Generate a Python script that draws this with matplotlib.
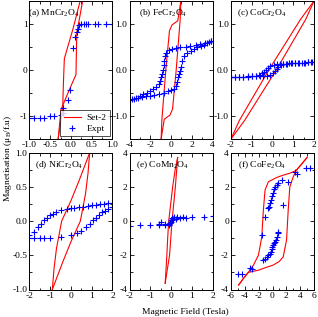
import matplotlib
matplotlib.use('Agg')
import matplotlib.pyplot as plt
from matplotlib.ticker import MultipleLocator, FormatStrFormatter

plt.rcParams['font.family'] = ['Liberation Serif', 'DejaVu Serif']
plt.rcParams['mathtext.fontset'] = 'custom'
plt.rcParams['mathtext.rm'] = 'Liberation Serif'
plt.rcParams['mathtext.it'] = 'Liberation Serif:italic'
plt.rcParams['axes.unicode_minus'] = False

# (a) MnCr2O4
a_sim_up_h = [-0.31, -0.24, -0.05, 0.12, 0.13, 0.14, 0.2, 0.28]
a_sim_up_m = [-1.5, -0.86, -0.45, -0.1, 0.4, 0.82, 1.1, 1.5]
a_sim_dn_h = [0.22, 0.05, -0.16, -0.18, -0.19, -0.2, -0.26, -0.31]
a_sim_dn_m = [1.5, 0.9, 0.25, -0.21, -0.5, -0.86, -1.2, -1.5]
a_exp_h = [-1.0, -0.9, -0.75, -0.66, -0.5, -0.41, -0.23, -0.2, -0.2, -0.08, -0.02,
           0.04, 0.1, 0.15, 0.18, 0.2, 0.24, 0.32, 0.37, 0.42, 0.59, 0.65, 0.85, 0.98]
a_exp_m = [-1.05, -1.05, -1.04, -1.04, -1.0, -1.0, -0.97, -0.93, -0.82, -0.65, -0.43,
           0.47, 0.72, 0.82, 0.9, 0.97, 1.0, 1.0, 1.0, 1.0, 1.0, 1.0, 1.0, 1.0]

# (b) FeCr2O4
b_sim_up_h = [-0.95, -0.65, -0.1, 0.15, 0.5, 0.88, 0.95]
b_sim_up_m = [-1.5, -1.07, -0.98, -0.85, 0.0, 1.08, 1.5]
b_sim_dn_h = [0.95, 0.65, 0.1, -0.15, -0.5, -0.88, -0.95]
b_sim_dn_m = [1.5, 1.07, 0.98, 0.85, 0.0, -1.08, -1.5]
b_exp_dn_h = [3.9, 3.65, 3.3, 2.84, 2.4, 1.87, 1.4, 0.9, 0.5, 0.1, -0.2, -0.46, -0.58,
              -0.65, -0.72, -0.8, -0.87, -0.95, -1.05, -1.2, -1.45, -1.69, -2.0, -2.33,
              -2.7, -2.98, -3.4, -3.8]
b_exp_dn_m = [0.63, 0.6, 0.59, 0.57, 0.55, 0.53, 0.51, 0.49, 0.47, 0.46, 0.43, 0.38, 0.3,
              0.2, 0.1, 0.0, -0.09, -0.16, -0.23, -0.31, -0.38, -0.42, -0.46, -0.49,
              -0.53, -0.56, -0.6, -0.63]
b_exp_up_h = [-4.0, -3.6, -3.2, -2.8, -2.4, -2.0, -1.6, -1.2, -0.72, -0.3, 0.0, 0.25,
              0.45, 0.58, 0.68, 0.76, 0.84, 0.92, 1.07, 1.3, 1.55, 1.9, 2.2, 2.5, 2.9,
              3.2, 3.5, 3.82]
b_exp_up_m = [-0.65, -0.63, -0.61, -0.59, -0.57, -0.56, -0.54, -0.52, -0.49, -0.46,
              -0.44, -0.41, -0.34, -0.27, -0.15, -0.08, -0.02, 0.06, 0.2, 0.3, 0.36,
              0.42, 0.46, 0.49, 0.52, 0.55, 0.58, 0.62]

# (c) CoCr2O4
c_sim_up_h = [-2.0, -1.35, 0.18, 1.6, 2.0]
c_sim_up_m = [-1.5, -1.1, 0.0, 1.1, 1.5]
c_sim_dn_h = [2.0, 1.35, -0.18, -1.6, -2.0]
c_sim_dn_m = [1.5, 1.1, 0.0, -1.1, -1.5]
c_exp_dn_h = [2.0, 1.85, 1.7, 1.55, 1.4, 1.25, 1.1, 0.95, 0.8, 0.65, 0.5, 0.35, 0.2,
              0.05, -0.1, -0.2, -0.3, -0.4, -0.5, -0.65, -0.8, -1.0, -1.2, -1.4, -1.6,
              -1.8, -2.0]
c_exp_dn_m = [0.17, 0.17, 0.17, 0.16, 0.16, 0.16, 0.15, 0.15, 0.15, 0.14, 0.14, 0.13,
              0.13, 0.11, 0.08, 0.05, 0.0, -0.04, -0.07, -0.1, -0.12, -0.13, -0.14,
              -0.15, -0.15, -0.16, -0.16]
c_exp_up_h = [-2.0, -1.8, -1.6, -1.4, -1.2, -1.0, -0.8, -0.6, -0.45, -0.28, -0.1, 0.0,
              0.12, 0.2, 0.28, 0.4, 0.52, 0.7, 0.9, 1.1, 1.3, 1.5, 1.7, 1.9]
c_exp_up_m = [-0.16, -0.16, -0.16, -0.15, -0.15, -0.14, -0.14, -0.13, -0.13, -0.12,
              -0.1, -0.07, -0.02, 0.02, 0.07, 0.11, 0.13, 0.14, 0.15, 0.15, 0.16, 0.16,
              0.17, 0.17]

# (d) NiCr2O4
d_sim_up_h = [-0.9, -0.4, 0.0, 0.45, 0.7, 0.82, 0.9]
d_sim_up_m = [-1.0, -0.6, -0.3, 0.0, 0.4, 0.7, 1.0]
d_sim_dn_h = [0.9, 0.4, 0.0, -0.45, -0.7, -0.82, -0.9]
d_sim_dn_m = [1.0, 0.6, 0.3, 0.0, -0.4, -0.7, -1.0]
d_exp_dn_h = [2.0, 1.8, 1.6, 1.4, 1.2, 1.0, 0.8, 0.6, 0.4, 0.16, 0.0, -0.2, -0.5, -0.7,
              -0.85, -1.0, -1.15, -1.3, -1.45, -1.6, -1.8, -2.0]
d_exp_dn_m = [0.26, 0.26, 0.25, 0.25, 0.24, 0.23, 0.22, 0.21, 0.2, 0.19, 0.19, 0.18,
              0.16, 0.13, 0.11, 0.09, 0.05, 0.01, -0.04, -0.09, -0.16, -0.21]
d_exp_up_h = [-2.0, -1.8, -1.5, -1.3, -1.0, -0.5, 0.0, 0.3, 0.5, 0.7, 0.9, 1.05, 1.2,
              1.35, 1.5, 1.65, 1.8, 2.0]
d_exp_up_m = [-0.25, -0.25, -0.25, -0.25, -0.24, -0.23, -0.2, -0.17, -0.14, -0.09,
              -0.04, 0.01, 0.05, 0.09, 0.13, 0.15, 0.18, 0.2]

# (e) CoMn2O4
e_sim_up_h = [-0.28, -0.2, -0.07, 0.05, 0.13, 0.21, 0.32]
e_sim_up_m = [-3.64, -3.0, -2.0, 0.0, 1.0, 2.0, 3.72]
e_sim_dn_h = [0.32, 0.2, 0.08, -0.11, -0.16, -0.2, -0.28]
e_sim_dn_m = [3.72, 3.0, 2.0, 0.0, -1.0, -2.0, -3.64]
e_exp_dn_h = [2.0, 1.6, 1.0, 0.7, 0.45, 0.25, 0.1, 0.05, 0.0, -0.05, -0.1, -0.3, -0.6,
              -1.0, -1.5, -2.0]
e_exp_dn_m = [0.29, 0.26, 0.22, 0.2, 0.18, 0.15, 0.12, 0.05, -0.05, -0.12, -0.16, -0.17,
              -0.18, -0.2, -0.24, -0.29]
e_exp_up_h = [-0.6, -0.5, -0.3, -0.11, -0.05, 0.0, 0.05, 0.13, 0.3, 0.6]
e_exp_up_m = [-0.22, -0.04, -0.2, -0.23, -0.12, 0.05, 0.2, 0.25, 0.25, 0.26]

# (f) CoFe2O4
f_sim_dn_h = [5.0, 4.2, 3.4, 2.5, 1.5, 0.6, -0.6, -1.08, -1.32, -1.55, -2.03, -2.75,
              -3.5, -4.2, -4.9]
f_sim_dn_m = [3.72, 3.33, 2.95, 2.8, 2.68, 2.55, 2.3, 1.81, 0.64, -0.92, -1.99, -2.57,
              -3.0, -3.35, -3.74]
f_sim_up_h = [-4.9, -4.2, -3.5, -2.03, -1.0, 0.12, 1.0, 1.55, 2.03, 2.27, 2.5, 3.0,
              3.4, 4.2, 5.0]
f_sim_up_m = [-3.74, -3.35, -3.0, -2.87, -2.72, -2.57, -2.35, -2.09, -1.11, 0.64, 2.0,
              2.59, 2.95, 3.33, 3.72]
f_exp_dn_h = [5.4, 4.9, 3.56, 3.23, 2.27, 1.32, 0.84, 0.6, 0.36, 0.15, 0.03, -0.1, -0.26,
              -0.36, -0.46, -0.6, -1.1, -1.55, -3.0, -3.2, -4.42, -5.05]
f_exp_dn_m = [3.08, 3.08, 2.75, 2.88, 2.26, 2.4, 2.2, 2.1, 2.0, 1.85, 1.62, 1.45, 1.23,
              1.05, 0.84, 0.74, 0.25, -0.82, -2.82, -2.77, -3.12, -3.12]
f_exp_up_h = [-1.34, -1.08, -0.85, -0.6, -0.4, -0.26, -0.1, -0.03, 0.1, 0.22, 0.35, 0.5,
              0.62, 0.74, 0.8, 1.46]
f_exp_up_m = [-2.27, -2.2, -2.1, -2.0, -1.9, -1.8, -1.62, -1.5, -1.4, -1.3, -1.2, -1.11,
              -0.95, -0.72, -0.62, 0.94]

panels = [
    dict(label='(a) MnCr$_2$O$_4$', sim=[(a_sim_up_h, a_sim_up_m), (a_sim_dn_h, a_sim_dn_m)],
         exp=[(a_exp_h, a_exp_m)], xlim=(-1, 1), ylim=(-1.5, 1.5), xmaj=0.5, xmin=0.25,
         ymaj=1, ymin=0.5, xfmt=None, yfmt='%d', tx=-0.02),
    dict(label='(b) FeCr$_2$O$_4$', sim=[(b_sim_up_h, b_sim_up_m), (b_sim_dn_h, b_sim_dn_m)],
         exp=[(b_exp_dn_h, b_exp_dn_m), (b_exp_up_h, b_exp_up_m)], xlim=(-4, 4), ylim=(-1.5, 1.5),
         xmaj=2, xmin=1, ymaj=1, ymin=0.5, xfmt='%d', yfmt='%.1f', tx=0.12),
    dict(label='(c) CoCr$_2$O$_4$', sim=[(c_sim_up_h, c_sim_up_m), (c_sim_dn_h, c_sim_dn_m)],
         exp=[(c_exp_dn_h, c_exp_dn_m), (c_exp_up_h, c_exp_up_m)], xlim=(-2, 2), ylim=(-1.5, 1.5),
         xmaj=1, xmin=0.5, ymaj=1, ymin=0.5, xfmt='%d', yfmt='%.1f', tx=0.07),
    dict(label='(d) NiCr$_2$O$_4$', sim=[(d_sim_up_h, d_sim_up_m), (d_sim_dn_h, d_sim_dn_m)],
         exp=[(d_exp_dn_h, d_exp_dn_m), (d_exp_up_h, d_exp_up_m)], xlim=(-2, 2), ylim=(-1, 1),
         xmaj=1, xmin=0.5, ymaj=0.5, ymin=0.25, xfmt='%d', yfmt='%.1f', tx=0.07),
    dict(label='(e) CoMn$_2$O$_4$', sim=[(e_sim_up_h, e_sim_up_m), (e_sim_dn_h, e_sim_dn_m)],
         exp=[(e_exp_dn_h, e_exp_dn_m), (e_exp_up_h, e_exp_up_m)], xlim=(-2, 2), ylim=(-4, 4),
         xmaj=1, xmin=0.5, ymaj=2, ymin=1, xfmt='%d', yfmt='%d', tx=0.08),
    dict(label='(f) CoFe$_2$O$_4$', sim=[(f_sim_up_h, f_sim_up_m), (f_sim_dn_h, f_sim_dn_m)],
         exp=[(f_exp_dn_h, f_exp_dn_m), (f_exp_up_h, f_exp_up_m)], xlim=(-6, 6), ylim=(-4, 4),
         xmaj=2, xmin=1, ymaj=2, ymin=1, xfmt='%d', yfmt='%d', tx=0.09),
]

W, H = 318, 317
fig = plt.figure(figsize=(W / 100, H / 100), dpi=100)
lefts = [29.5, 129.5, 231]
rows = [(1, 139), (152.7, 289.5)]
fs = 6.8

for i, p in enumerate(panels):
    r, c = divmod(i, 3)
    top, bot = rows[r]
    ax = fig.add_axes([lefts[c] / W, 1 - bot / H, 83 / W, (bot - top) / H])
    for h, m in p['sim']:
        ax.plot(h, m, color='red', lw=0.8)
    for h, m in p['exp']:
        ax.plot(h, m, ls='none', marker='+', color='blue', ms=4.2, mew=0.8)
    ax.set_xlim(*p['xlim'])
    ax.set_ylim(*p['ylim'])
    ax.xaxis.set_major_locator(MultipleLocator(p['xmaj']))
    ax.xaxis.set_minor_locator(MultipleLocator(p['xmin']))
    ax.yaxis.set_major_locator(MultipleLocator(p['ymaj']))
    ax.yaxis.set_minor_locator(MultipleLocator(p['ymin']))
    if p['xfmt']:
        ax.xaxis.set_major_formatter(FormatStrFormatter(p['xfmt']))
    ax.yaxis.set_major_formatter(FormatStrFormatter(p['yfmt']))
    ax.tick_params(which='both', direction='in', top=True, right=True, labelsize=fs, width=0.6)
    ax.tick_params(which='major', length=3, pad=1.5)
    ax.tick_params(which='minor', length=1.8)
    for s in ax.spines.values():
        s.set_linewidth(0.7)
    ax.text(p['tx'], 0.91, p['label'], transform=ax.transAxes, fontsize=fs, va='center', ha='left')
    if i == 0:
        ax.plot([], [], color='red', lw=0.8, label='Set-2')
        ax.plot([], [], ls='none', marker='+', color='blue', ms=4.2, mew=0.8, label='Expt')
        handles, labels = ax.get_legend_handles_labels()
        leg = ax.legend(handles[-2:], labels[-2:], loc='lower right', fontsize=fs, frameon=True,
                        fancybox=False, edgecolor='black', borderaxespad=0.3,
                        handlelength=1.8, handletextpad=0.6, labelspacing=0.25, borderpad=0.35)
        leg.get_frame().set_linewidth(0.6)

fig.text(8 / W, 0.5, 'Magnetisation (μ$_\\mathrm{B}$/f.u)', rotation=90, fontsize=fs,
         ha='center', va='center')
fig.text(185 / W, 1 - 311.5 / H, 'Magnetic Field (Tesla)', fontsize=fs, ha='center', va='center')

fig.savefig('out.png', dpi=100)
